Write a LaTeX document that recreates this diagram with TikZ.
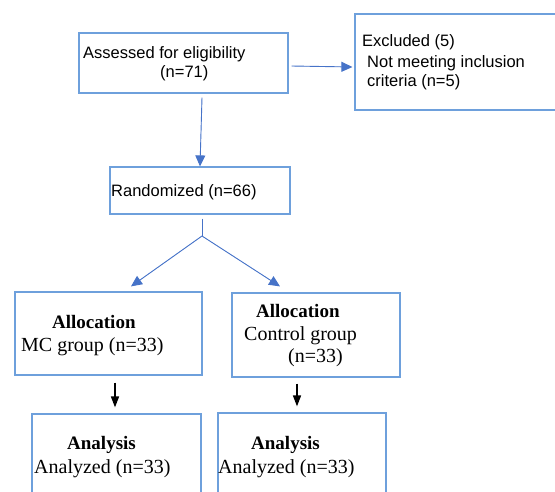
\documentclass[tikz,border=0pt]{standalone}
\usepackage{fontspec}
\setmainfont{Liberation Serif}
\newfontfamily\arialfont{Liberation Sans}
\usetikzlibrary{arrows.meta,calc}

\definecolor{boxblue}{RGB}{110,160,220}
\definecolor{arrblue}{RGB}{70,115,200}

\begin{document}
\begin{tikzpicture}[
    x=1pt, y=-1pt,
    box/.style={draw=boxblue, line width=1.2pt, inner sep=0pt},
    stxt/.style={anchor=base west, inner sep=0pt, font=\arialfont\fontsize{16.5}{19}\selectfont},
    rtxt/.style={anchor=base west, inner sep=0pt, font=\fontsize{20}{23}\selectfont},
    btxt/.style={anchor=base west, inner sep=0pt, font=\bfseries\fontsize{19}{22}\selectfont},
    arr/.style={-{Triangle[length=11pt,width=10pt]}, draw=arrblue, fill=arrblue, line width=0.9pt},
    barr/.style={-{Triangle[length=11pt,width=8pt]}, line width=1.5pt}
]
\useasboundingbox (0,0) rectangle (555,492);

% boxes
\node[box, minimum width=209, minimum height=60] (assess) at (183.5,63) {};
\node[box, minimum width=210, minimum height=96] (excl) at (460,62) {};
\node[box, minimum width=180, minimum height=47] (rand) at (200,190.5) {};
\node[box, minimum width=187, minimum height=83] (allocL) at (108.5,333.5) {};
\node[box, minimum width=168, minimum height=84] (allocR) at (316,335) {};
\node[box, minimum width=169, minimum height=96] (anaL) at (116.5,462) {};
\node[box, minimum width=168, minimum height=97] (anaR) at (302,461.5) {};

% texts
\node[stxt] (assessA) at (83,59) {Assessed for eligibility};
\node[stxt] (assessB) at (160,78) {(n=71)};
\node[stxt] (exclA) at (362,47) {Excluded (5)};
\node[stxt] (exclB) at (367,67.5) {Not meeting inclusion};
\node[stxt] (exclC) at (367,87) {criteria (n=5)};
\node[stxt] (randA) at (111,197) {Randomized (n=66)};
\node[btxt] (allocLA) at (52,328) {Allocation};
\node[rtxt] (allocLB) at (21,352) {MC group (n=33)};
\node[btxt] (allocRA) at (256,317) {Allocation};
\node[rtxt] (allocRB) at (244,341) {Control group};
\node[rtxt] (allocRC) at (288,362) {(n=33)};
\node[btxt] (anaLA) at (67,449) {Analysis};
\node[rtxt] (anaLB) at (34,473) {Analyzed (n=33)};
\node[btxt] (anaRA) at (251,449) {Analysis};
\node[rtxt] (anaRB) at (218,473) {Analyzed (n=33)};

% connectors
\coordinate (split) at (202,236);
\draw[arr] ([shift={(3,3)}]assess.east) -- ([shift={(-2,5)}]excl.west);
\draw[arr] ([shift={(18.5,4)}]assess.south) -- (rand.north);
\draw[draw=arrblue, line width=0.9pt] ([shift={(2,4)}]rand.south) -- (split);
\draw[arr] (split) -- ([shift={(22.5,-5)}]allocL.north);
\draw[arr] (split) -- ([shift={(-36,-6)}]allocR.north);
\draw[barr] ([shift={(6.5,7)}]allocL.south) -- ([shift={(-1.5,-6)}]anaL.north);
\draw[barr] ([shift={(-19,6)}]allocR.south) -- ([shift={(-5,-6)}]anaR.north);
\end{tikzpicture}
\end{document}
